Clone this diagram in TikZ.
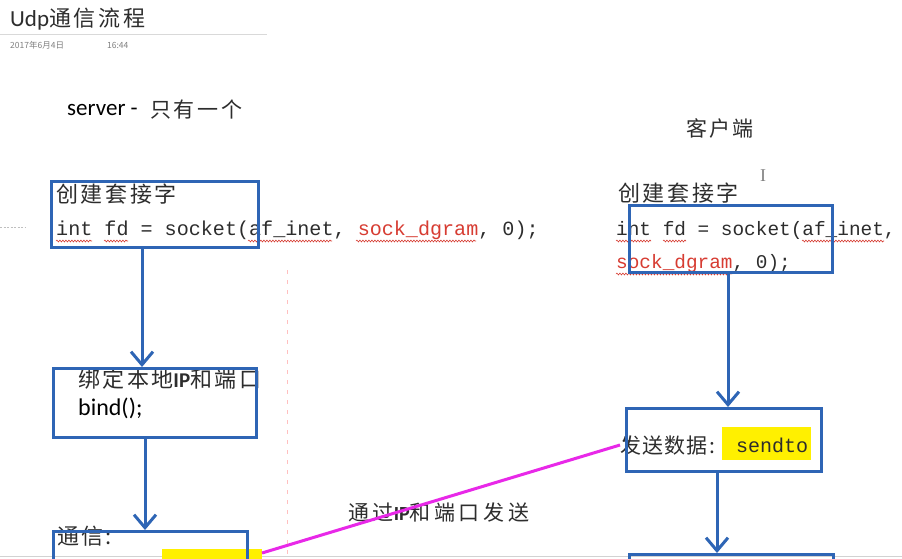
\documentclass[tikz,border=0pt]{standalone}
\usepackage{fontspec}
\usetikzlibrary{arrows.meta,decorations.pathmorphing}
\newfontfamily\cjk{Noto Sans CJK SC}
\newfontfamily\carl{Carlito}
\newfontfamily\codef{Liberation Mono}
\newfontfamily\serifI{Liberation Serif}
\newcommand\fsz[1]{\fontsize{#1}{#1}\selectfont}
\newcommand\zh[3]{{\cjk\fsz{#2}\addfontfeatures{LetterSpace=#1}#3}}
\definecolor{boxblue}{RGB}{46,101,181}
\definecolor{txtgray}{RGB}{45,45,45}
\definecolor{squig}{RGB}{215,60,50}
\definecolor{hl}{RGB}{255,240,0}
\definecolor{mag}{RGB}{232,40,232}
\tikzset{
  txt/.style={inner sep=0pt, anchor=west, text=txtgray},
  boxline/.style={draw=boxblue, line width=3pt},
  flow/.style={draw=boxblue, line width=3pt, -{Straight Barb[length=13pt,width=22pt]}},
  squiggle/.style={draw=squig, line width=0.6pt, decorate, decoration={snake, amplitude=0.9pt, segment length=3pt}},
  redtxt/.style={text=squig}
}
\begin{document}
\begin{tikzpicture}[x=1pt,y=-1pt]
\useasboundingbox (0,0) rectangle (902,558);
\fill[white] (0,0) rectangle (902,558);
\clip (0,0) rectangle (902,558);

% faint page details
\draw[gray!30, line width=1pt] (0,34) -- (267,34);
\draw[red!25, line width=0.6pt, dash pattern=on 4pt off 6pt] (287,270) -- (287,558);
\draw[gray!35, line width=1pt] (0,556.5) -- (902,556.5);
\draw[gray!50, line width=0.6pt, dash pattern=on 2pt off 1.5pt] (0,227) -- (26,227);

% title and date
\node[txt] (title) at (10,19) {{\carl\fsz{23}Udp}\zh{12}{22}{通信流程}};
\node[txt, text=gray] (date) at (10,45) {\cjk\fsz{8.5}2017年6月4日};
\node[txt, text=gray] (time) at (107,45) {\cjk\fsz{8.5}16:44};

% headings
\node[txt, text=black] (server) at (67,110) {\carl\fsz{23}server -};
\node[txt] (serverzh) at (150,110) {\zh{13}{21}{只有一个}};
\node[txt] (client) at (686,128) {\zh{11}{21}{客户端}};
\node[txt, text=gray] (cursor) at (760,176) {\serifI\fsz{18}I};

% highlights
\fill[hl] (162,549) rectangle (262,562);
\fill[hl] (722,427) rectangle (811,460);

% server texts
\node[txt] (s1a) at (56,194) {\zh{12}{22}{创建套接字}};
\node[txt] (s1b) at (56,230) {\codef\fsz{20.1}int fd = socket(af\_inet, \textcolor{squig}{sock\_dgram}, 0);};
\draw[squiggle] (56,241) -- (92,241);
\draw[squiggle] (104,241) -- (128,241);
\draw[squiggle] (248,241) -- (332,241);
\draw[squiggle] (356,241) -- (476,241);
\node[txt] (s2a) at (78,379) {\zh{11}{22}{绑定本地}{\carl\bfseries\fsz{21}IP}\zh{11}{22}{和端口}};
\node[txt, text=black] (s2b) at (78,408) {\carl\fsz{24}bind();};
\node[txt] (s3a) at (57,536) {\zh{10}{22}{通信:}};

% client texts
\node[txt] (c1a) at (618,193) {\zh{12}{22}{创建套接字}};
\node[txt] (c1b) at (616,230) {\codef\fsz{19.4}int fd = socket(af\_inet,};
\node[txt] (c1c) at (616,263) {\codef\fsz{19.4}\textcolor{squig}{sock\_dgram}, 0);};
\draw[squiggle] (616,241) -- (651,241);
\draw[squiggle] (663,241) -- (686,241);
\draw[squiggle] (802,241) -- (884,241);
\draw[squiggle] (616,274) -- (732,274);
\node[txt] (c2a) at (620,445) {\zh{6}{21}{发送数据:}};
\node[txt] (c2b) at (736,445) {\codef\fsz{20}sendto};

\node[txt] (via) at (348,512) {\zh{17}{21}{通过}{\carl\bfseries\fsz{20}IP}\zh{17}{21}{和端口发送}};

% boxes
\node[boxline, inner sep=0pt, minimum width=207pt, minimum height=66pt, anchor=north west] (sbox1) at (50,180) {};
\node[boxline, inner sep=0pt, minimum width=203pt, minimum height=69pt, anchor=north west] (sbox2) at (52,367) {};
\node[boxline, inner sep=0pt, minimum width=194pt, minimum height=70pt, anchor=north west] (sbox3) at (52,530) {};
\node[boxline, inner sep=0pt, minimum width=203pt, minimum height=67pt, anchor=north west] (cbox1) at (628,204) {};
\node[boxline, inner sep=0pt, minimum width=195pt, minimum height=63pt, anchor=north west] (cbox2) at (625,407) {};
\node[boxline, inner sep=0pt, minimum width=204pt, minimum height=60pt, anchor=north west] (cbox3) at (628,553) {};

% arrows
\draw[flow] (sbox1.south -| 142,0) -- (sbox2.north -| 142,0);
\draw[flow] (sbox2.south -| 145,0) -- (sbox3.north -| 145,0);
\draw[flow] (cbox1.south -| 728,0) -- (cbox2.north -| 728,0);
\draw[flow] (cbox2.south -| 717,0) -- (cbox3.north -| 717,0);

% magenta link
\coordinate (linkstart) at (262,553);
\draw[mag, line width=3pt] (linkstart) -- (c2a.west);
\end{tikzpicture}
\end{document}
